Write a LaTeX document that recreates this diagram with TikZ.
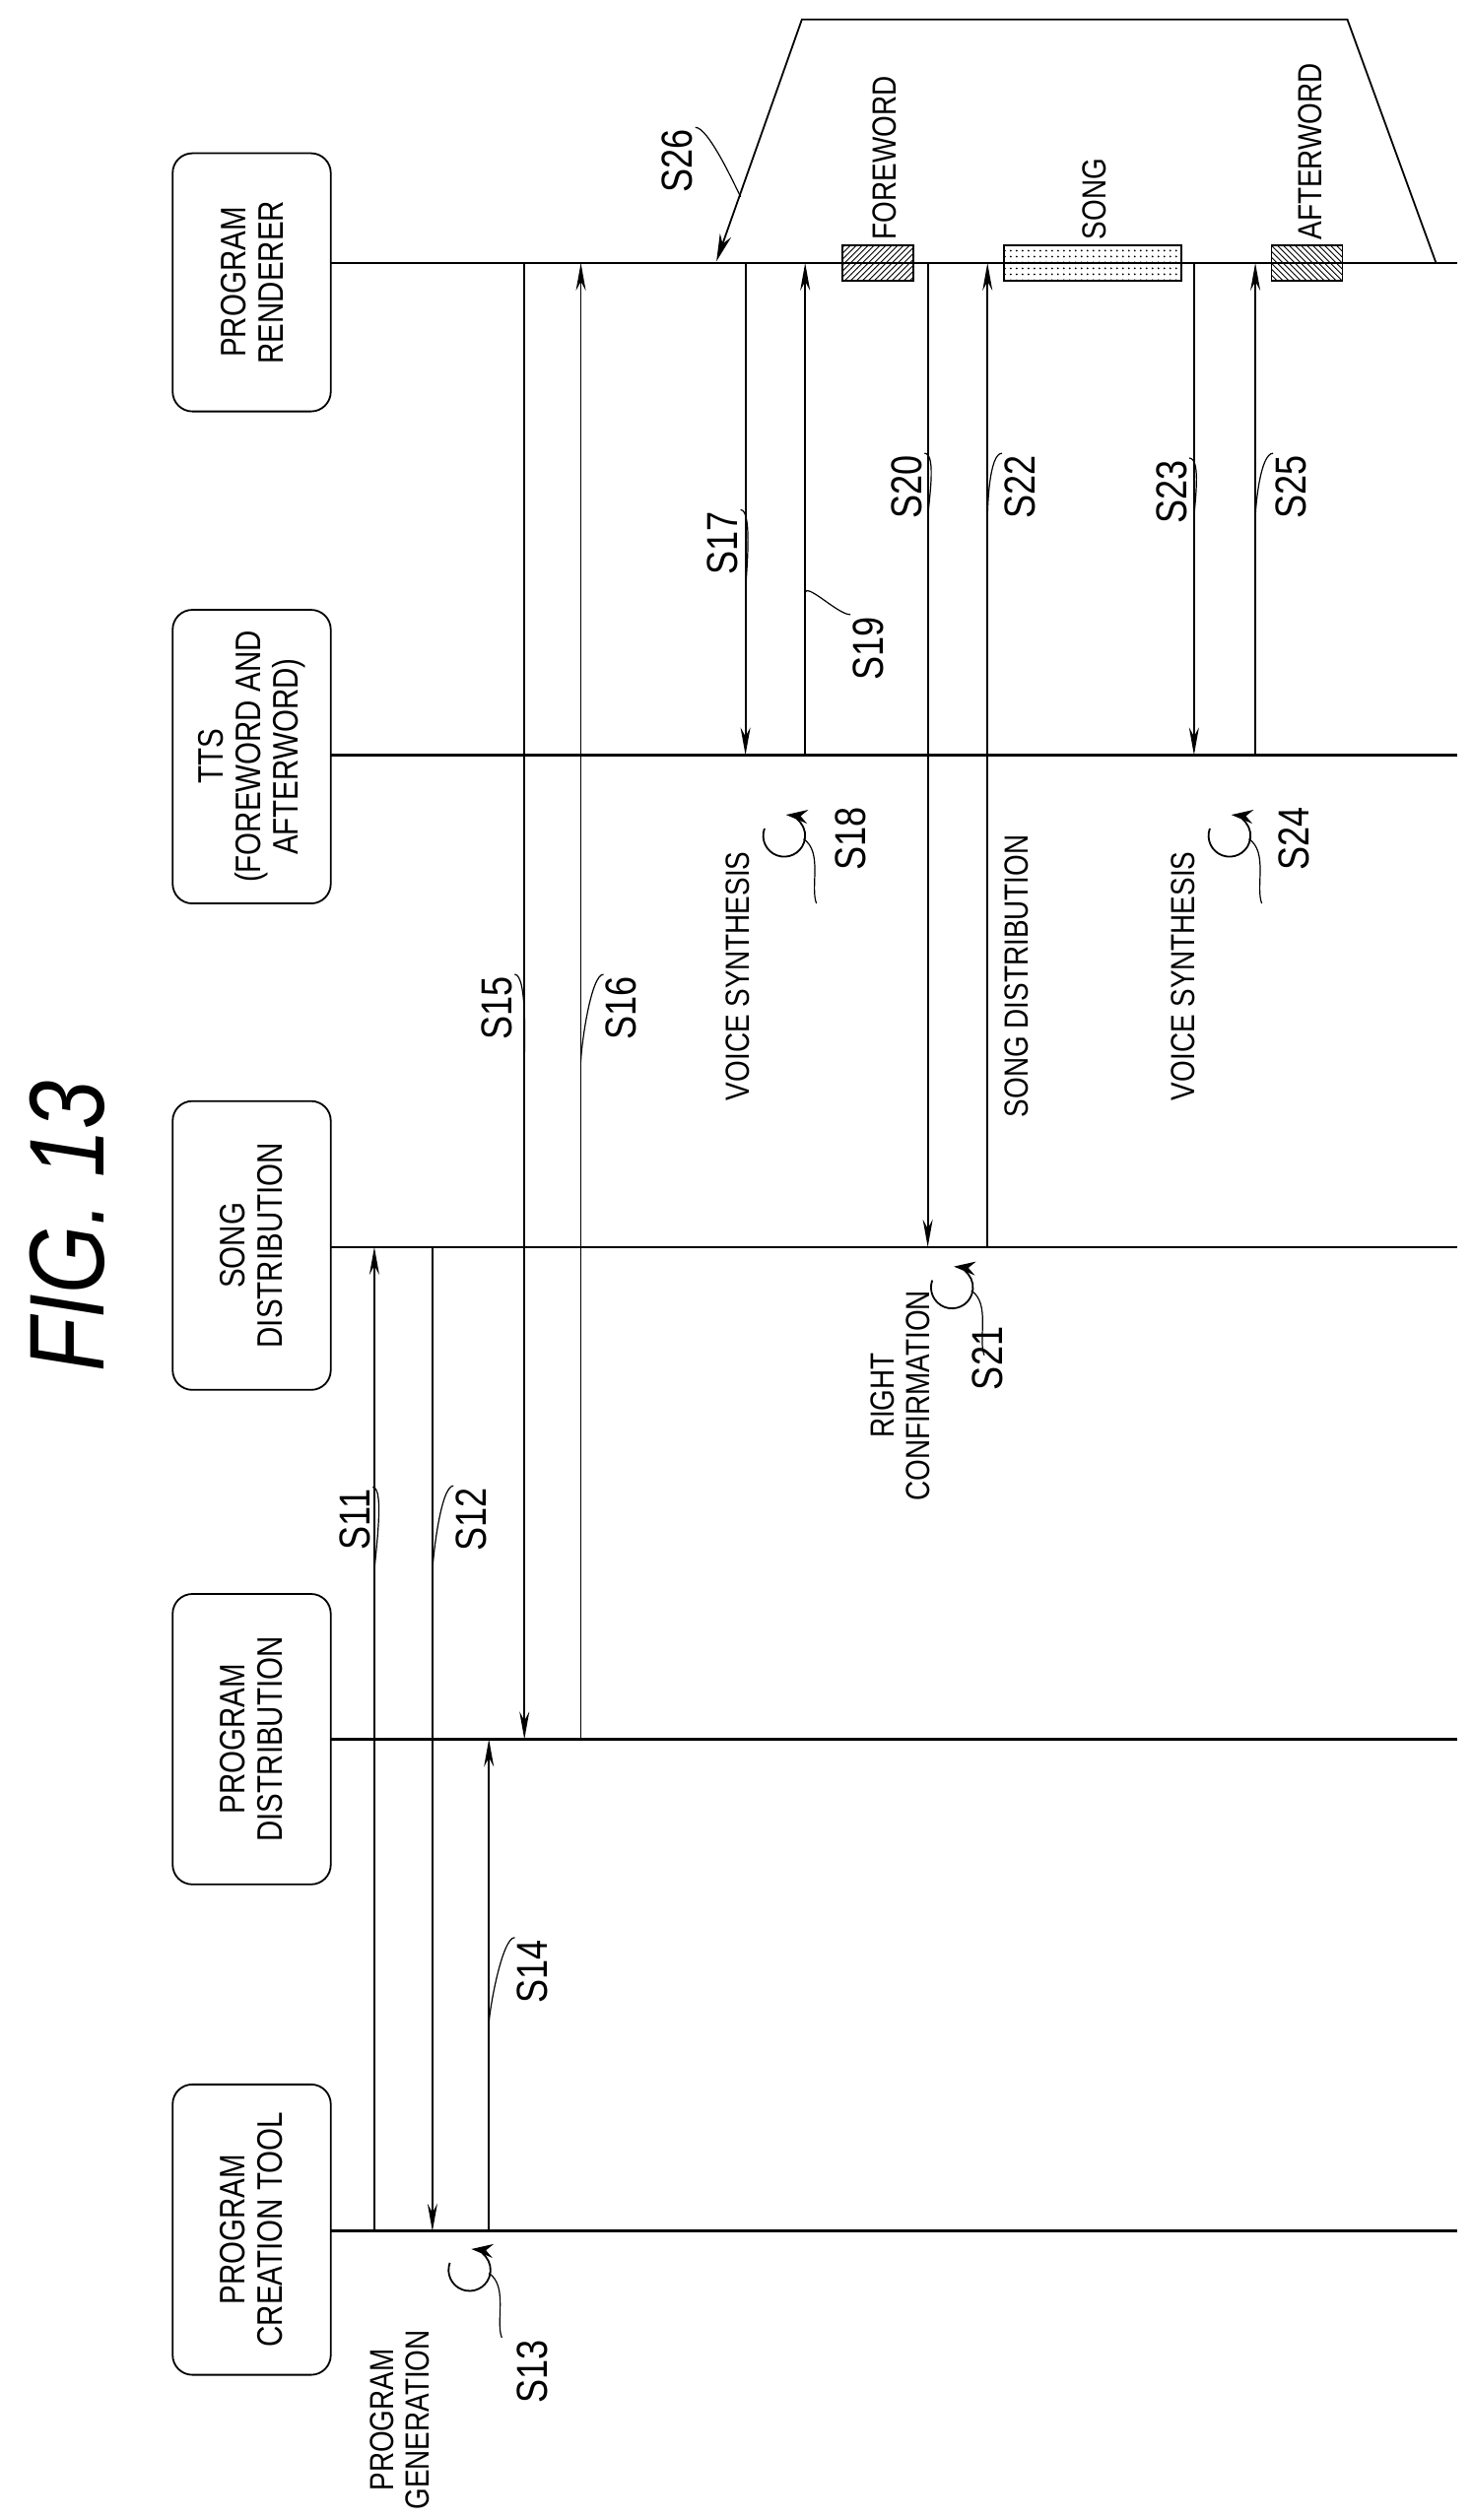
\documentclass[tikz,border=0pt]{standalone}
\usepackage{fontspec}
\setmainfont{Liberation Sans}[FakeStretch=0.82]
\usetikzlibrary{arrows.meta,patterns,calc}

\tikzset{
  actor/.style={draw,rotate=90,rounded corners=10pt,line width=0.9pt,minimum height=98*0.819pt,
    align=center,font=\fontsize{18}{19}\selectfont,inner sep=0pt},
  life/.style={line width=1.4pt},
  msg/.style={line width=0.9pt,-{Stealth[length=14pt,width=5pt]}},
  slab/.style={rotate=90,font=\fontsize{22}{24}\selectfont,inner sep=1pt},
  tlab/.style={rotate=90,font=\fontsize{17}{18}\selectfont,align=center,inner sep=1pt},
  lead/.style={line width=0.6pt},
  loop/.style={line width=0.9pt,-{Stealth[length=11pt,width=7pt]}}
}

\begin{document}
\begin{tikzpicture}[x=0.819pt,y=-0.819pt]
  \useasboundingbox (0,0) rectangle (912,1562);
  % title
  \node[rotate=90,font=\fontsize{54}{56}\selectfont\itshape] (title) at (42,760) {FIG. 13};
  % actors
  \node[actor,minimum width=160*0.819pt] (rend) at (156,175) {PROGRAM\\RENDERER};
  \node[actor,minimum width=182*0.819pt] (tts) at (156,469) {TTS\\(FOREWORD AND\\AFTERWORD)};
  \node[actor,minimum width=179*0.819pt] (song) at (156,772) {SONG\\DISTRIBUTION};
  \node[actor,minimum width=180*0.819pt] (pdist) at (156,1078) {PROGRAM\\DISTRIBUTION};
  \node[actor,minimum width=180*0.819pt] (tool) at (156,1382) {PROGRAM\\CREATION TOOL};
  % lifelines
  \coordinate (lrend) at (205,163);
  \coordinate (ltts) at (205,468);
  \coordinate (lsong) at (205,773);
  \coordinate (lpdist) at (205,1078);
  \coordinate (ltool) at (205,1383);
  \coordinate (rend end) at (903,163);
  \coordinate (tts end) at (903,468);
  \coordinate (song end) at (903,773);
  \coordinate (pdist end) at (903,1078);
  \coordinate (tool end) at (903,1383);
  \foreach \n in {rend,tts,song,pdist,tool}{
    \draw[life] (l\n) -- (\n\space end);
  }
  % message columns
  \foreach \s/\x in {s11/232,s12/268,s14/303,s15/325,s16/360,s17/462,s19/499,s20/575,s22/612,s23/740,s25/778}{
    \coordinate (\s) at (\x,0);
  }
  \draw[msg] (s11 |- ltool) -- (s11 |- lsong);
  \draw[msg] (s12 |- lsong) -- (s12 |- ltool);
  \draw[msg] (s14 |- ltool) -- (s14 |- lpdist);
  \draw[msg] (s15 |- lrend) -- (s15 |- lpdist);
  \draw[msg] (s16 |- lpdist) -- (s16 |- lrend);
  \draw[msg] (s17 |- lrend) -- (s17 |- ltts);
  \draw[msg] (s19 |- ltts) -- (s19 |- lrend);
  \draw[msg] (s20 |- lrend) -- (s20 |- lsong);
  \draw[msg] (s22 |- lsong) -- (s22 |- lrend);
  \draw[msg] (s23 |- lrend) -- (s23 |- ltts);
  \draw[msg] (s25 |- ltts) -- (s25 |- lrend);
  % self loops
  \foreach \x/\y in {291/1407,486/518,590/798,762/518}{
    \draw[loop] ($(\x,\y)+(200:13)$) arc[start angle=200,end angle=-85,radius=13];
    \draw[lead] ($(\x,\y)+(12,2)$) .. controls +(12,8) and +(-4,-10) .. ++(8,40);
  }
  % operation texts
  \node[tlab] (gen) at (248,1500) {PROGRAM\\GENERATION};
  \node[tlab] (vs1) at (457,605) {VOICE SYNTHESIS};
  \node[tlab] (rc) at (558,865) {RIGHT\\CONFIRMATION};
  \node[tlab] (sd) at (630,605) {SONG DISTRIBUTION};
  \node[tlab] (vs2) at (733,605) {VOICE SYNTHESIS};
  % step labels
  \node[slab] (l11) at (220,942) {S11};
  \node[slab] (l12) at (292,942) {S12};
  \node[slab] (l13) at (330,1470) {S13};
  \node[slab] (l14) at (330,1222) {S14};
  \node[slab] (l15) at (308,625) {S15};
  \node[slab] (l16) at (385,625) {S16};
  \node[slab] (l17) at (448,337) {S17};
  \node[slab] (l18) at (527,520) {S18};
  \node[slab] (l19) at (538,402) {S19};
  \node[slab] (l20) at (562,302) {S20};
  \node[slab] (l21) at (612,842) {S21};
  \node[slab] (l22) at (632,302) {S22};
  \node[slab] (l23) at (726,305) {S23};
  \node[slab] (l24) at (802,520) {S24};
  \node[slab] (l25) at (800,302) {S25};
  \node[slab] (l26) at (420,100) {S26};
  % leaders
  \draw[lead] (l11.south east) .. controls +(8,0) and +(0,-8) .. (s11 |- 0,975);
  \draw[lead] (l12.north east) .. controls +(-8,0) and +(0,-8) .. (s12 |- 0,975);
  \draw[lead] (l14.north east) .. controls +(-8,0) and +(0,-8) .. (s14 |- 0,1255);
  \draw[lead] (l15.south east) .. controls +(8,0) and +(0,-8) .. (s15 |- 0,658);
  \draw[lead] (l16.north east) .. controls +(-8,0) and +(0,-8) .. (s16 |- 0,658);
  \draw[lead] (l17.south east) .. controls +(8,0) and +(0,-8) .. (s17 |- 0,368);
  \draw[lead] (l19.north east) .. controls +(-8,0) and +(0,-8) .. (s19 |- 0,368);
  \draw[lead] (l20.south east) .. controls +(8,0) and +(0,-8) .. (s20 |- 0,322);
  \draw[lead] (l22.north east) .. controls +(-8,0) and +(0,-8) .. (s22 |- 0,322);
  \draw[lead] (l23.south east) .. controls +(8,0) and +(0,-8) .. (s23 |- 0,322);
  \draw[lead] (l25.north east) .. controls +(-8,0) and +(0,-8) .. (s25 |- 0,322);
  \draw[lead] (l26.south east) .. controls +(8,0) and +(-4,-8) .. (459,122);
  % program structure
  \coordinate (pl) at (444,162);
  \coordinate (pr) at (890,163);
  \draw[line width=0.9pt,{Stealth[length=14pt,width=6pt]}-] (pl) -- (497,12) -- (835,12) -- (pr);
  \node[draw,line width=0.9pt,pattern=north east lines,minimum width=44*0.819pt,minimum height=22*0.819pt,inner sep=0pt] (fw) at (544,163) {};
  \node[draw,line width=0.9pt,pattern=dots,minimum width=110*0.819pt,minimum height=22*0.819pt,inner sep=0pt] (sg) at (677,163) {};
  \node[draw,line width=0.9pt,pattern=north west lines,minimum width=44*0.819pt,minimum height=22*0.819pt,inner sep=0pt] (aw) at (810,163) {};
  \node[tlab,anchor=west] at (548,150) {FOREWORD};
  \node[tlab,anchor=west] at (678,150) {SONG};
  \node[tlab,anchor=west] at (812,150) {AFTERWORD};
\end{tikzpicture}
\end{document}
